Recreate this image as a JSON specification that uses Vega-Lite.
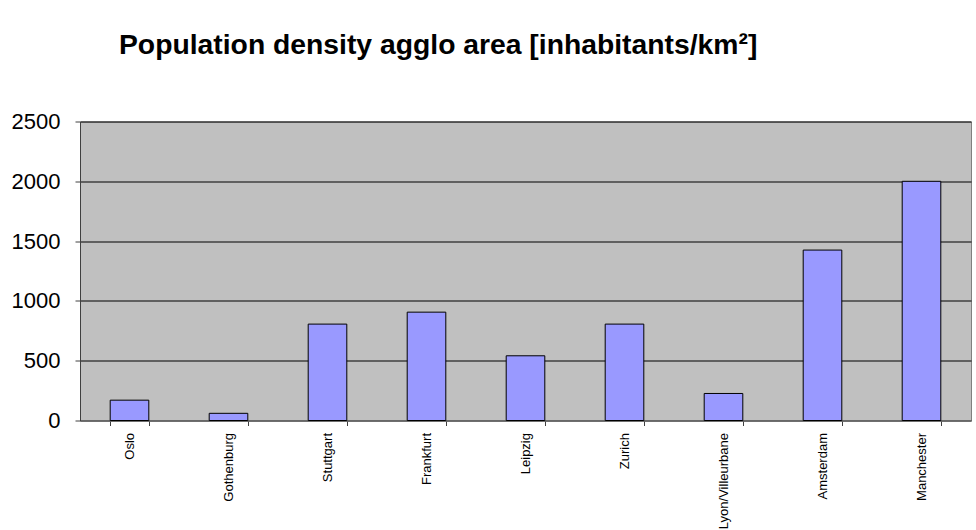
{
  "$schema": "https://vega.github.io/schema/vega-lite/v6.json",
  "autosize": "none",
  "width": 891,
  "height": 299,
  "padding": {"left": 80, "top": 121.5, "right": 5, "bottom": 109.5},
  "background": "white",
  "title": {
    "text": "Population density agglo area [inhabitants/km²]",
    "font": "Liberation Sans",
    "fontSize": 28.3,
    "fontWeight": "bold",
    "color": "black",
    "anchor": "start",
    "frame": "group",
    "baseline": "alphabetic",
    "dx": 39,
    "offset": 28
  },
  "data": {
    "values": [
      {"city": "Oslo", "density": 170},
      {"city": "Gothenburg", "density": 60},
      {"city": "Stuttgart", "density": 806},
      {"city": "Frankfurt", "density": 906},
      {"city": "Leipzig", "density": 541},
      {"city": "Zurich", "density": 806},
      {"city": "Lyon/Villeurbane", "density": 226},
      {"city": "Amsterdam", "density": 1425},
      {"city": "Manchester", "density": 2000}
    ]
  },
  "mark": {"type": "bar", "color": "#9999FF", "stroke": "black", "strokeWidth": 1},
  "encoding": {
    "x": {
      "field": "city",
      "type": "nominal",
      "sort": null,
      "scale": {"paddingInner": 0.61, "paddingOuter": 0.305},
      "axis": {
        "title": null,
        "labelAngle": -90,
        "labelAlign": "right",
        "labelBaseline": "middle",
        "labelFont": "Liberation Sans",
        "labelFontSize": 13,
        "labelColor": "black",
        "labelPadding": 7,
        "tickBand": "extent",
        "tickSize": 5,
        "tickColor": "#404040",
        "domainColor": "#808080",
        "grid": false
      }
    },
    "y": {
      "field": "density",
      "type": "quantitative",
      "scale": {"domain": [0, 2500]},
      "axis": {
        "title": null,
        "values": [0, 500, 1000, 1500, 2000, 2500],
        "format": "d",
        "labelFont": "Liberation Sans",
        "labelFontSize": 22,
        "labelColor": "black",
        "labelPadding": 15,
        "tickSize": 5,
        "tickColor": "#404040",
        "domainColor": "#404040",
        "grid": true,
        "gridColor": "black",
        "gridOpacity": 1,
        "gridWidth": 1
      }
    }
  },
  "config": {
    "view": {"fill": "#C0C0C0", "stroke": "#808080", "strokeWidth": 1},
    "axis": {"labelFlush": false}
  }
}
